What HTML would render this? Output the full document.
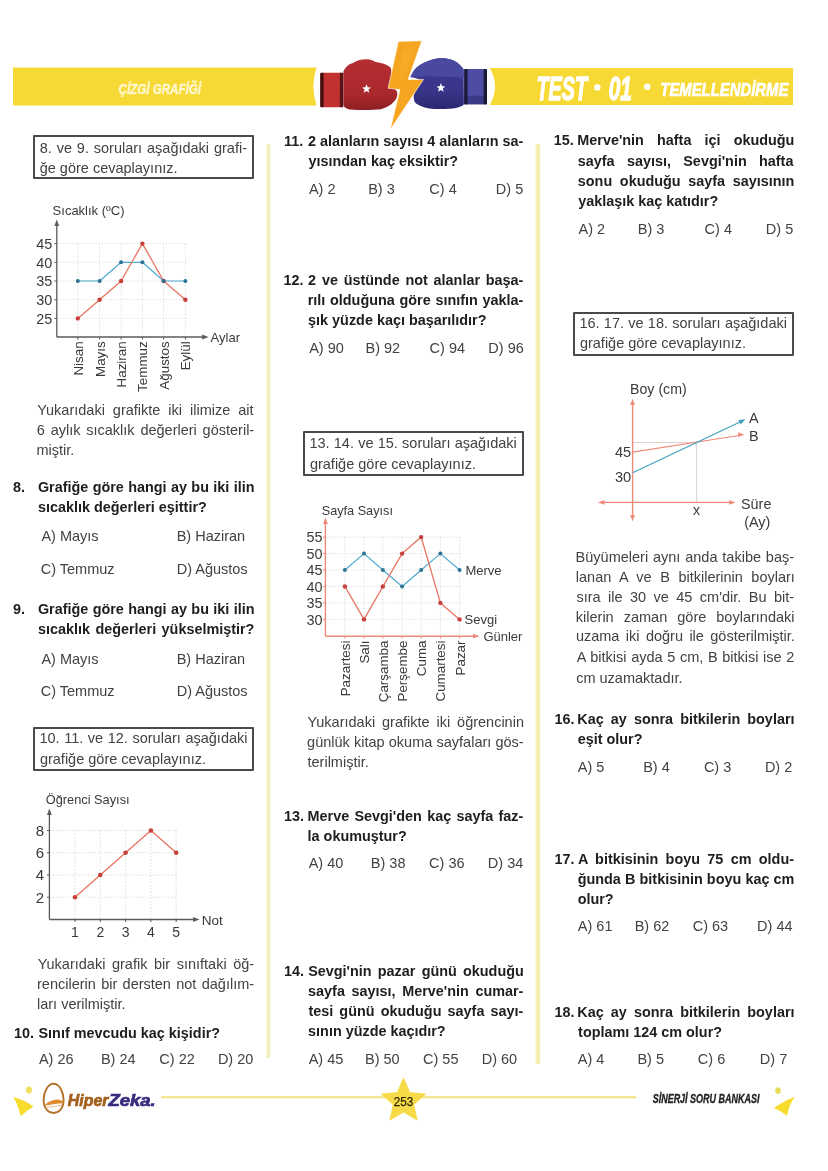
<!DOCTYPE html>
<html><head><meta charset="utf-8"><title>Çizgi Grafiği - Test 01</title>
<style>
html,body{margin:0;padding:0;background:#fff;}
body{width:828px;height:1171px;position:relative;overflow:hidden;font-family:"Liberation Sans",sans-serif;}
.t{position:absolute;line-height:1;white-space:pre;transform-origin:0 0;}
.box{position:absolute;box-sizing:border-box;border:2px solid #4a4a4a;border-radius:1px;}
svg.g{position:absolute;left:0;top:0;}
#pg{position:absolute;left:0;top:0;width:828px;height:1171px;filter:blur(0.3px);}
svg text{font-family:"Liberation Sans",sans-serif;}
</style></head>
<body>
<div id="pg">
<svg class="g" width="828" height="1171" viewBox="0 0 828 1171">
<rect x="265.8" y="144" width="5.2" height="914" fill="#FBFAE6"/>
<rect x="267" y="144" width="2.8" height="914" fill="#F1EEBC"/>
<rect x="535.3" y="144" width="5.4" height="920" fill="#FBF7DA"/>
<rect x="536.4" y="144" width="3.1" height="920" fill="#F3ECA6"/>
<path d="M13 67.5 L316.5 67.5 A61.7 61.7 0 0 0 316.5 105.5 L13 105.5Z" fill="#F7D935"/>
<path d="M489.8 68 L793 68 L793 105 L489.8 105 A35.5 35.5 0 0 0 489.8 68Z" fill="#F7D935"/>
<text x="118.5" y="94.2" font-size="15.5" font-weight="bold" font-style="italic" fill="#FFF6CC" stroke="#FFF6CC" stroke-width="0.5" textLength="82.5" lengthAdjust="spacingAndGlyphs">ÇİZGİ GRAFİĞİ</text>
<text x="536.5" y="99.6" font-size="33.5" font-weight="bold" font-style="italic" fill="#fff" stroke="#fff" stroke-width="1.3" textLength="50.6" lengthAdjust="spacingAndGlyphs">TEST</text>
<circle cx="597.4" cy="87.5" r="3.2" fill="#fff"/>
<text x="608.8" y="99.6" font-size="33.5" font-weight="bold" font-style="italic" fill="#fff" stroke="#fff" stroke-width="1.3" textLength="23" lengthAdjust="spacingAndGlyphs">01</text>
<circle cx="647.3" cy="86.8" r="3.2" fill="#fff"/>
<text x="660.3" y="96.3" font-size="19" font-weight="bold" font-style="italic" fill="#fff" stroke="#fff" stroke-width="0.7" textLength="128" lengthAdjust="spacingAndGlyphs">TEMELLENDİRME</text>
<defs><linearGradient id="rg" x1="0" y1="0" x2="0" y2="1"><stop offset="0" stop-color="#B52E32"/><stop offset="0.7" stop-color="#A8282C"/><stop offset="1" stop-color="#8E2022"/></linearGradient><linearGradient id="bg" x1="0" y1="0" x2="0" y2="1"><stop offset="0" stop-color="#3E3B8E"/><stop offset="0.65" stop-color="#38358A"/><stop offset="1" stop-color="#2B2870"/></linearGradient></defs>
<path d="M343.4 71.5 C346 66 350 63.5 352 63.5 C356 60.5 362 59 367 59.2 C371 59.5 373.5 60.5 375.5 62 C381 62.5 387 64.5 390.5 67.5 C392 70 392 80 391 87 C394 88 397 90 397.3 93 C397.5 97 396 100 393.5 102 C391 105 387 107.5 381 109.2 C372 110.2 360 110.2 350 109.4 C346 108.8 343.6 107.5 343.4 104 Z" fill="url(#rg)"/>
<rect x="320.3" y="72.8" width="22.9" height="34.4" rx="1.5" fill="#C2302F"/>
<rect x="320.3" y="72.8" width="3.3" height="34.4" rx="1" fill="#3e1010"/>
<rect x="339.9" y="72.8" width="3.3" height="34.4" fill="#551516"/>
<path d="M366.5 84.2 L367.7 87.3 L371 87.5 L368.4 89.6 L369.3 92.8 L366.5 91 L363.7 92.8 L364.6 89.6 L362 87.5 L365.3 87.3Z" fill="#fff"/>
<path d="M463.7 69.6 C460 64 455 60.5 450.7 59.5 C446 58 441 57.8 437 58.6 C431 59.8 425 62 420 65 C416 67 413 71 410.4 77.2 C414 77.5 418 78.5 421.3 80.4 C418 85 415 90 413.7 95.7 C413.5 99.5 414.5 102 416 103.5 C421 107 428 108.7 434 108.9 C442 109.3 450 109 456 108 C460 107 463 106 463.9 104.3 Z" fill="url(#bg)"/>
<path d="M463.7 69.6 C460 64 455 60.5 450.7 59.5 C446 58 441 57.8 437 58.6 C431 59.8 425 62 420 65 C416 67 413 71 410.4 77.2 C416 76.5 422 76 428 76.2 C440 76.5 452 76.8 463.9 77.5 Z" fill="#4A49A0"/>
<rect x="464.2" y="69" width="22.8" height="35.3" rx="1.5" fill="#4C4DA3"/>
<rect x="464.2" y="95.7" width="22.8" height="8.6" fill="#3B3A88"/>
<rect x="464.2" y="69" width="3.3" height="35.3" fill="#1b1938"/>
<rect x="483.7" y="69" width="3.3" height="35.3" rx="1" fill="#1b1938"/>
<path d="M440.9 83.1 L442.1 86.2 L445.4 86.4 L442.8 88.5 L443.7 91.7 L440.9 89.9 L438.1 91.7 L439 88.5 L436.4 86.4 L439.7 86.2Z" fill="#fff"/>
<path d="M398.3 41.4 L421.8 40.8 L408.2 79.4 L423.5 79.4 L390.2 129.7 L400 89.6 L388.1 88.3Z" fill="#F5A51F" stroke="#fff" stroke-width="0.6" stroke-linejoin="round"/>
<path d="M402 50 L414 47 L404 82 L398 84Z" fill="#F7AE2A" opacity="0.6"/>
<line x1="56.8" y1="243.6" x2="186.5" y2="243.6" stroke="#dcdcdc" stroke-width="0.9" stroke-dasharray="1.6 1.6"/>
<line x1="54.3" y1="243.6" x2="56.8" y2="243.6" stroke="#5a5a5a" stroke-width="1"/>
<line x1="56.8" y1="262.3" x2="186.5" y2="262.3" stroke="#dcdcdc" stroke-width="0.9" stroke-dasharray="1.6 1.6"/>
<line x1="54.3" y1="262.3" x2="56.8" y2="262.3" stroke="#5a5a5a" stroke-width="1"/>
<line x1="56.8" y1="281.0" x2="186.5" y2="281.0" stroke="#dcdcdc" stroke-width="0.9" stroke-dasharray="1.6 1.6"/>
<line x1="54.3" y1="281.0" x2="56.8" y2="281.0" stroke="#5a5a5a" stroke-width="1"/>
<line x1="56.8" y1="299.7" x2="186.5" y2="299.7" stroke="#dcdcdc" stroke-width="0.9" stroke-dasharray="1.6 1.6"/>
<line x1="54.3" y1="299.7" x2="56.8" y2="299.7" stroke="#5a5a5a" stroke-width="1"/>
<line x1="56.8" y1="318.4" x2="186.5" y2="318.4" stroke="#dcdcdc" stroke-width="0.9" stroke-dasharray="1.6 1.6"/>
<line x1="54.3" y1="318.4" x2="56.8" y2="318.4" stroke="#5a5a5a" stroke-width="1"/>
<line x1="77.8" y1="243.6" x2="77.8" y2="337.0" stroke="#dcdcdc" stroke-width="0.9" stroke-dasharray="1.6 1.6"/>
<line x1="77.8" y1="337.0" x2="77.8" y2="339.5" stroke="#5a5a5a" stroke-width="1"/>
<line x1="99.6" y1="243.6" x2="99.6" y2="337.0" stroke="#dcdcdc" stroke-width="0.9" stroke-dasharray="1.6 1.6"/>
<line x1="99.6" y1="337.0" x2="99.6" y2="339.5" stroke="#5a5a5a" stroke-width="1"/>
<line x1="121.1" y1="243.6" x2="121.1" y2="337.0" stroke="#dcdcdc" stroke-width="0.9" stroke-dasharray="1.6 1.6"/>
<line x1="121.1" y1="337.0" x2="121.1" y2="339.5" stroke="#5a5a5a" stroke-width="1"/>
<line x1="142.4" y1="243.6" x2="142.4" y2="337.0" stroke="#dcdcdc" stroke-width="0.9" stroke-dasharray="1.6 1.6"/>
<line x1="142.4" y1="337.0" x2="142.4" y2="339.5" stroke="#5a5a5a" stroke-width="1"/>
<line x1="163.6" y1="243.6" x2="163.6" y2="337.0" stroke="#dcdcdc" stroke-width="0.9" stroke-dasharray="1.6 1.6"/>
<line x1="163.6" y1="337.0" x2="163.6" y2="339.5" stroke="#5a5a5a" stroke-width="1"/>
<line x1="185.4" y1="243.6" x2="185.4" y2="337.0" stroke="#dcdcdc" stroke-width="0.9" stroke-dasharray="1.6 1.6"/>
<line x1="185.4" y1="337.0" x2="185.4" y2="339.5" stroke="#5a5a5a" stroke-width="1"/>
<line x1="56.8" y1="225.0" x2="56.8" y2="337.0" stroke="#5a5a5a" stroke-width="1.3"/>
<line x1="56.8" y1="337.0" x2="203.0" y2="337.0" stroke="#5a5a5a" stroke-width="1.3"/>
<path d="M56.8 219.5 L54.4 225.9 L59.2 225.9Z" fill="#5a5a5a"/>
<path d="M208.5 337.0 L202.1 334.6 L202.1 339.4Z" fill="#5a5a5a"/>
<polyline points="77.8,281.0 99.6,281.0 121.1,262.3 142.4,262.3 163.6,281.0 185.4,281.0" fill="none" stroke="#4FA9CF" stroke-width="1.2" stroke-linejoin="round"/>
<polyline points="77.8,318.4 99.6,299.7 121.1,281.0 142.4,243.6 163.6,281.0 185.4,299.7" fill="none" stroke="#E8735E" stroke-width="1.3" stroke-linejoin="round"/>
<circle cx="77.8" cy="318.4" r="2.2" fill="#C8403C"/>
<circle cx="99.6" cy="299.7" r="2.2" fill="#C8403C"/>
<circle cx="121.1" cy="281.0" r="2.2" fill="#C8403C"/>
<circle cx="142.4" cy="243.6" r="2.2" fill="#C8403C"/>
<circle cx="163.6" cy="281.0" r="2.2" fill="#C8403C"/>
<circle cx="185.4" cy="299.7" r="2.2" fill="#C8403C"/>
<circle cx="77.8" cy="281.0" r="2.0" fill="#2A7393"/>
<circle cx="99.6" cy="281.0" r="2.0" fill="#2A7393"/>
<circle cx="121.1" cy="262.3" r="2.0" fill="#2A7393"/>
<circle cx="142.4" cy="262.3" r="2.0" fill="#2A7393"/>
<circle cx="163.6" cy="281.0" r="2.0" fill="#2A7393"/>
<circle cx="185.4" cy="281.0" r="2.0" fill="#2A7393"/>
<text x="52.3" y="248.8" font-size="14.4" fill="#3a3a3a" text-anchor="end" >45</text>
<text x="52.3" y="267.5" font-size="14.4" fill="#3a3a3a" text-anchor="end" >40</text>
<text x="52.3" y="286.2" font-size="14.4" fill="#3a3a3a" text-anchor="end" >35</text>
<text x="52.3" y="304.9" font-size="14.4" fill="#3a3a3a" text-anchor="end" >30</text>
<text x="52.3" y="323.6" font-size="14.4" fill="#3a3a3a" text-anchor="end" >25</text>
<text x="52.6" y="215.0" font-size="13" fill="#3a3a3a" text-anchor="start" >Sıcaklık (ºC)</text>
<text x="210.6" y="341.5" font-size="13" fill="#3a3a3a" text-anchor="start" >Aylar</text>
<text transform="translate(82.7,341.3) rotate(-90)" font-size="13.4" fill="#3a3a3a" text-anchor="end">Nisan</text>
<text transform="translate(104.5,341.3) rotate(-90)" font-size="13.4" fill="#3a3a3a" text-anchor="end">Mayıs</text>
<text transform="translate(126.0,341.3) rotate(-90)" font-size="13.4" fill="#3a3a3a" text-anchor="end">Haziran</text>
<text transform="translate(147.3,341.3) rotate(-90)" font-size="13.4" fill="#3a3a3a" text-anchor="end">Temmuz</text>
<text transform="translate(168.5,341.3) rotate(-90)" font-size="13.4" fill="#3a3a3a" text-anchor="end">Ağustos</text>
<text transform="translate(190.3,341.3) rotate(-90)" font-size="13.4" fill="#3a3a3a" text-anchor="end">Eylül</text>
<line x1="325.4" y1="537.1" x2="461.0" y2="537.1" stroke="#dcdcdc" stroke-width="0.9" stroke-dasharray="1.6 1.6"/>
<line x1="322.9" y1="537.1" x2="325.4" y2="537.1" stroke="#F08A78" stroke-width="1"/>
<line x1="325.4" y1="553.6" x2="461.0" y2="553.6" stroke="#dcdcdc" stroke-width="0.9" stroke-dasharray="1.6 1.6"/>
<line x1="322.9" y1="553.6" x2="325.4" y2="553.6" stroke="#F08A78" stroke-width="1"/>
<line x1="325.4" y1="570.0" x2="461.0" y2="570.0" stroke="#dcdcdc" stroke-width="0.9" stroke-dasharray="1.6 1.6"/>
<line x1="322.9" y1="570.0" x2="325.4" y2="570.0" stroke="#F08A78" stroke-width="1"/>
<line x1="325.4" y1="586.5" x2="461.0" y2="586.5" stroke="#dcdcdc" stroke-width="0.9" stroke-dasharray="1.6 1.6"/>
<line x1="322.9" y1="586.5" x2="325.4" y2="586.5" stroke="#F08A78" stroke-width="1"/>
<line x1="325.4" y1="602.9" x2="461.0" y2="602.9" stroke="#dcdcdc" stroke-width="0.9" stroke-dasharray="1.6 1.6"/>
<line x1="322.9" y1="602.9" x2="325.4" y2="602.9" stroke="#F08A78" stroke-width="1"/>
<line x1="325.4" y1="619.4" x2="461.0" y2="619.4" stroke="#dcdcdc" stroke-width="0.9" stroke-dasharray="1.6 1.6"/>
<line x1="322.9" y1="619.4" x2="325.4" y2="619.4" stroke="#F08A78" stroke-width="1"/>
<line x1="344.9" y1="537.1" x2="344.9" y2="636.2" stroke="#dcdcdc" stroke-width="0.9" stroke-dasharray="1.6 1.6"/>
<line x1="344.9" y1="636.2" x2="344.9" y2="638.7" stroke="#F08A78" stroke-width="1"/>
<line x1="364.0" y1="537.1" x2="364.0" y2="636.2" stroke="#dcdcdc" stroke-width="0.9" stroke-dasharray="1.6 1.6"/>
<line x1="364.0" y1="636.2" x2="364.0" y2="638.7" stroke="#F08A78" stroke-width="1"/>
<line x1="382.9" y1="537.1" x2="382.9" y2="636.2" stroke="#dcdcdc" stroke-width="0.9" stroke-dasharray="1.6 1.6"/>
<line x1="382.9" y1="636.2" x2="382.9" y2="638.7" stroke="#F08A78" stroke-width="1"/>
<line x1="402.1" y1="537.1" x2="402.1" y2="636.2" stroke="#dcdcdc" stroke-width="0.9" stroke-dasharray="1.6 1.6"/>
<line x1="402.1" y1="636.2" x2="402.1" y2="638.7" stroke="#F08A78" stroke-width="1"/>
<line x1="421.2" y1="537.1" x2="421.2" y2="636.2" stroke="#dcdcdc" stroke-width="0.9" stroke-dasharray="1.6 1.6"/>
<line x1="421.2" y1="636.2" x2="421.2" y2="638.7" stroke="#F08A78" stroke-width="1"/>
<line x1="440.4" y1="537.1" x2="440.4" y2="636.2" stroke="#dcdcdc" stroke-width="0.9" stroke-dasharray="1.6 1.6"/>
<line x1="440.4" y1="636.2" x2="440.4" y2="638.7" stroke="#F08A78" stroke-width="1"/>
<line x1="459.6" y1="537.1" x2="459.6" y2="636.2" stroke="#dcdcdc" stroke-width="0.9" stroke-dasharray="1.6 1.6"/>
<line x1="459.6" y1="636.2" x2="459.6" y2="638.7" stroke="#F08A78" stroke-width="1"/>
<line x1="325.4" y1="523.0" x2="325.4" y2="636.2" stroke="#F08A78" stroke-width="1.4"/>
<line x1="325.4" y1="636.2" x2="474.0" y2="636.2" stroke="#F08A78" stroke-width="1.4"/>
<path d="M325.4 517.5 L323.0 523.9 L327.8 523.9Z" fill="#F08A78"/>
<path d="M479.5 636.2 L473.1 633.8 L473.1 638.6Z" fill="#F08A78"/>
<polyline points="344.9,570.0 364.0,553.6 382.9,570.0 402.1,586.5 421.2,570.0 440.4,553.6 459.6,570.0" fill="none" stroke="#4FA9CF" stroke-width="1.2" stroke-linejoin="round"/>
<polyline points="344.9,586.5 364.0,619.4 382.9,586.5 402.1,553.6 421.2,537.1 440.4,602.9 459.6,619.4" fill="none" stroke="#E8735E" stroke-width="1.3" stroke-linejoin="round"/>
<circle cx="344.9" cy="586.5" r="2.2" fill="#C8403C"/>
<circle cx="364.0" cy="619.4" r="2.2" fill="#C8403C"/>
<circle cx="382.9" cy="586.5" r="2.2" fill="#C8403C"/>
<circle cx="402.1" cy="553.6" r="2.2" fill="#C8403C"/>
<circle cx="421.2" cy="537.1" r="2.2" fill="#C8403C"/>
<circle cx="440.4" cy="602.9" r="2.2" fill="#C8403C"/>
<circle cx="459.6" cy="619.4" r="2.2" fill="#C8403C"/>
<circle cx="344.9" cy="570.0" r="2.0" fill="#2A7393"/>
<circle cx="364.0" cy="553.6" r="2.0" fill="#2A7393"/>
<circle cx="382.9" cy="570.0" r="2.0" fill="#2A7393"/>
<circle cx="402.1" cy="586.5" r="2.0" fill="#2A7393"/>
<circle cx="421.2" cy="570.0" r="2.0" fill="#2A7393"/>
<circle cx="440.4" cy="553.6" r="2.0" fill="#2A7393"/>
<circle cx="459.6" cy="570.0" r="2.0" fill="#2A7393"/>
<text x="322.5" y="542.3" font-size="14.4" fill="#3a3a3a" text-anchor="end" >55</text>
<text x="322.5" y="558.8" font-size="14.4" fill="#3a3a3a" text-anchor="end" >50</text>
<text x="322.5" y="575.2" font-size="14.4" fill="#3a3a3a" text-anchor="end" >45</text>
<text x="322.5" y="591.7" font-size="14.4" fill="#3a3a3a" text-anchor="end" >40</text>
<text x="322.5" y="608.1" font-size="14.4" fill="#3a3a3a" text-anchor="end" >35</text>
<text x="322.5" y="624.6" font-size="14.4" fill="#3a3a3a" text-anchor="end" >30</text>
<text x="321.7" y="514.5" font-size="12.7" fill="#3a3a3a" text-anchor="start" >Sayfa Sayısı</text>
<text x="483.4" y="641.0" font-size="13" fill="#3a3a3a" text-anchor="start" >Günler</text>
<text x="465.4" y="574.5" font-size="13" fill="#3a3a3a" text-anchor="start" >Merve</text>
<text x="464.6" y="623.6" font-size="13" fill="#3a3a3a" text-anchor="start" >Sevgi</text>
<text transform="translate(349.8,640.5) rotate(-90)" font-size="13.4" fill="#3a3a3a" text-anchor="end">Pazartesi</text>
<text transform="translate(368.9,640.5) rotate(-90)" font-size="13.4" fill="#3a3a3a" text-anchor="end">Salı</text>
<text transform="translate(387.8,640.5) rotate(-90)" font-size="13.4" fill="#3a3a3a" text-anchor="end">Çarşamba</text>
<text transform="translate(407.0,640.5) rotate(-90)" font-size="13.4" fill="#3a3a3a" text-anchor="end">Perşembe</text>
<text transform="translate(426.1,640.5) rotate(-90)" font-size="13.4" fill="#3a3a3a" text-anchor="end">Cuma</text>
<text transform="translate(445.3,640.5) rotate(-90)" font-size="13.4" fill="#3a3a3a" text-anchor="end">Cumartesi</text>
<text transform="translate(464.5,640.5) rotate(-90)" font-size="13.4" fill="#3a3a3a" text-anchor="end">Pazar</text>
<line x1="49.4" y1="830.5" x2="177.0" y2="830.5" stroke="#dcdcdc" stroke-width="0.9" stroke-dasharray="1.6 1.6"/>
<line x1="46.9" y1="830.5" x2="49.4" y2="830.5" stroke="#5a5a5a" stroke-width="1"/>
<line x1="49.4" y1="852.7" x2="177.0" y2="852.7" stroke="#dcdcdc" stroke-width="0.9" stroke-dasharray="1.6 1.6"/>
<line x1="46.9" y1="852.7" x2="49.4" y2="852.7" stroke="#5a5a5a" stroke-width="1"/>
<line x1="49.4" y1="875.0" x2="177.0" y2="875.0" stroke="#dcdcdc" stroke-width="0.9" stroke-dasharray="1.6 1.6"/>
<line x1="46.9" y1="875.0" x2="49.4" y2="875.0" stroke="#5a5a5a" stroke-width="1"/>
<line x1="49.4" y1="897.2" x2="177.0" y2="897.2" stroke="#dcdcdc" stroke-width="0.9" stroke-dasharray="1.6 1.6"/>
<line x1="46.9" y1="897.2" x2="49.4" y2="897.2" stroke="#5a5a5a" stroke-width="1"/>
<line x1="75.0" y1="830.5" x2="75.0" y2="919.5" stroke="#dcdcdc" stroke-width="0.9" stroke-dasharray="1.6 1.6"/>
<line x1="75.0" y1="919.5" x2="75.0" y2="922.0" stroke="#5a5a5a" stroke-width="1"/>
<line x1="100.3" y1="830.5" x2="100.3" y2="919.5" stroke="#dcdcdc" stroke-width="0.9" stroke-dasharray="1.6 1.6"/>
<line x1="100.3" y1="919.5" x2="100.3" y2="922.0" stroke="#5a5a5a" stroke-width="1"/>
<line x1="125.6" y1="830.5" x2="125.6" y2="919.5" stroke="#dcdcdc" stroke-width="0.9" stroke-dasharray="1.6 1.6"/>
<line x1="125.6" y1="919.5" x2="125.6" y2="922.0" stroke="#5a5a5a" stroke-width="1"/>
<line x1="150.9" y1="830.5" x2="150.9" y2="919.5" stroke="#dcdcdc" stroke-width="0.9" stroke-dasharray="1.6 1.6"/>
<line x1="150.9" y1="919.5" x2="150.9" y2="922.0" stroke="#5a5a5a" stroke-width="1"/>
<line x1="176.2" y1="830.5" x2="176.2" y2="919.5" stroke="#dcdcdc" stroke-width="0.9" stroke-dasharray="1.6 1.6"/>
<line x1="176.2" y1="919.5" x2="176.2" y2="922.0" stroke="#5a5a5a" stroke-width="1"/>
<line x1="49.4" y1="814.0" x2="49.4" y2="919.5" stroke="#5a5a5a" stroke-width="1.3"/>
<line x1="49.4" y1="919.5" x2="194.0" y2="919.5" stroke="#5a5a5a" stroke-width="1.3"/>
<path d="M49.4 808.5 L47.0 814.9 L51.8 814.9Z" fill="#5a5a5a"/>
<path d="M199.5 919.5 L193.1 917.1 L193.1 921.9Z" fill="#5a5a5a"/>
<polyline points="75.0,897.2 100.3,875.0 125.6,852.7 150.9,830.5 176.2,852.7" fill="none" stroke="#E8735E" stroke-width="1.3" stroke-linejoin="round"/>
<circle cx="75.0" cy="897.2" r="2.3" fill="#C8403C"/>
<circle cx="100.3" cy="875.0" r="2.3" fill="#C8403C"/>
<circle cx="125.6" cy="852.7" r="2.3" fill="#C8403C"/>
<circle cx="150.9" cy="830.5" r="2.3" fill="#C8403C"/>
<circle cx="176.2" cy="852.7" r="2.3" fill="#C8403C"/>
<text x="44.2" y="835.9" font-size="15" fill="#3a3a3a" text-anchor="end" >8</text>
<text x="44.2" y="858.1" font-size="15" fill="#3a3a3a" text-anchor="end" >6</text>
<text x="44.2" y="880.4" font-size="15" fill="#3a3a3a" text-anchor="end" >4</text>
<text x="44.2" y="902.6" font-size="15" fill="#3a3a3a" text-anchor="end" >2</text>
<text x="75.0" y="936.8" font-size="14" fill="#3a3a3a" text-anchor="middle" >1</text>
<text x="100.3" y="936.8" font-size="14" fill="#3a3a3a" text-anchor="middle" >2</text>
<text x="125.6" y="936.8" font-size="14" fill="#3a3a3a" text-anchor="middle" >3</text>
<text x="150.9" y="936.8" font-size="14" fill="#3a3a3a" text-anchor="middle" >4</text>
<text x="176.2" y="936.8" font-size="14" fill="#3a3a3a" text-anchor="middle" >5</text>
<text x="45.7" y="804.4" font-size="12.8" fill="#3a3a3a" text-anchor="start" >Öğrenci Sayısı</text>
<text x="201.7" y="924.5" font-size="13.5" fill="#3a3a3a" text-anchor="start" >Not</text>
<line x1="632.6" y1="442.5" x2="696.6" y2="442.5" stroke="#e0c8c4" stroke-width="0.9"/>
<line x1="696.6" y1="442.5" x2="696.6" y2="502.4" stroke="#cfcfcf" stroke-width="0.9"/>
<line x1="632.6" y1="404.0" x2="632.6" y2="516.0" stroke="#F08A78" stroke-width="1.4"/>
<line x1="604.0" y1="502.4" x2="730.0" y2="502.4" stroke="#F08A78" stroke-width="1.4"/>
<path d="M632.6 398.5 L630.2 404.9 L635.0 404.9Z" fill="#F08A78"/>
<path d="M632.6 521.5 L630.2 515.1 L635.0 515.1Z" fill="#F08A78"/>
<path d="M598.0 502.4 L604.4 500.0 L604.4 504.8Z" fill="#F08A78"/>
<path d="M735.5 502.4 L729.1 500.0 L729.1 504.8Z" fill="#F08A78"/>
<line x1="632.6" y1="452.1" x2="739" y2="435.5" stroke="#F08A78" stroke-width="1.15"/>
<path d="M744.5 434.7 L738.1 432.3 L738.1 437.1Z" fill="#F08A78"/>
<line x1="632.6" y1="472.7" x2="740" y2="422" stroke="#3FA2BF" stroke-width="1.15"/>
<path d="M745.5 419.3 L738.4 420.1 L740.6 424.6Z" fill="#3FA2BF"/>
<text x="630.0" y="394.2" font-size="14.2" fill="#3a3a3a" text-anchor="start" >Boy (cm)</text>
<text x="749.0" y="423.1" font-size="14.4" fill="#3a3a3a" text-anchor="start" >A</text>
<text x="749.0" y="440.5" font-size="14.4" fill="#3a3a3a" text-anchor="start" >B</text>
<text x="631.2" y="457.0" font-size="14.6" fill="#3a3a3a" text-anchor="end" >45</text>
<text x="631.2" y="481.8" font-size="14.6" fill="#3a3a3a" text-anchor="end" >30</text>
<text x="696.6" y="515.0" font-size="14" fill="#3a3a3a" text-anchor="middle" >x</text>
<text x="741.0" y="509.0" font-size="14.4" fill="#3a3a3a" text-anchor="start" >Süre</text>
<text x="744.2" y="527.0" font-size="14.4" fill="#3a3a3a" text-anchor="start" >(Ay)</text>
<line x1="161" y1="1097.2" x2="636.3" y2="1097.2" stroke="#F3E07E" stroke-width="2"/>
<path d="M403.50,1078.00 L409.85,1092.56 L425.66,1094.10 L413.77,1104.64 L417.20,1120.15 L403.50,1112.10 L389.80,1120.15 L393.23,1104.64 L381.34,1094.10 L397.15,1092.56Z" fill="#F6DA48" stroke="#F6DA48" stroke-width="0.8" stroke-linejoin="round"/>
<text x="403.5" y="1106.2" font-size="12.5" fill="#2e2806" stroke="#2e2806" stroke-width="0.25" text-anchor="middle" textLength="19.5" lengthAdjust="spacingAndGlyphs">253</text>
<ellipse cx="29" cy="1090" rx="3" ry="3.4" fill="#F0E060"/>
<path d="M13.5 1097 Q24 1099.8 33.5 1106.4 Q26.5 1110.5 20.8 1116.2 Q18.5 1106 13.5 1097Z" fill="#F7DC2E"/>
<ellipse cx="778" cy="1090.6" rx="2.8" ry="3.4" fill="#E8DC5A"/>
<path d="M795 1096.8 Q784.5 1100.5 773.8 1108 Q781 1110.8 787 1115.8 Q789 1104.5 795 1096.8Z" fill="#F7DC2E"/>
<path d="M53.6 1083.8 C59.5 1083.8 63.6 1092 63.6 1100 C63.6 1108 59 1113 53.6 1113 C48.2 1113 43.6 1108 43.6 1100 C43.6 1092 47.7 1083.8 53.6 1083.8Z" fill="#fff" stroke="#B4732C" stroke-width="1.9"/>
<path d="M45.2 1104.6 C48.5 1101.5 53 1099.3 57.5 1099.4 C60 1099.5 62 1100.3 63.2 1101.6 L63 1103.2 C58 1103.6 52 1104.4 45.2 1105.4Z" fill="#E08A30"/>
<path d="M46 1107.5 C51 1106.6 57 1106.2 62 1105.4" fill="none" stroke="#E6B070" stroke-width="0.8"/>
<text x="67.8" y="1106" font-size="16.5" font-weight="bold" font-style="italic" fill="#A3601C" stroke="#A3601C" stroke-width="0.7" textLength="40.6" lengthAdjust="spacingAndGlyphs">Hiper</text>
<text x="108.4" y="1106" font-size="16.5" font-weight="bold" font-style="italic" fill="#3A2C80" stroke="#3A2C80" stroke-width="0.7" textLength="47.3" lengthAdjust="spacingAndGlyphs">Zeka.</text>
<text x="652.7" y="1103.2" font-size="13" font-weight="bold" font-style="italic" fill="#222" stroke="#222" stroke-width="0.35" textLength="106.7" lengthAdjust="spacingAndGlyphs">SİNERJİ SORU BANKASI</text>
</svg>
<div class="box" style="left:33.1px;top:135.1px;width:220.8px;height:43.8px"></div>
<div class="box" style="left:32.9px;top:726.9px;width:221.0px;height:43.8px"></div>
<div class="box" style="left:303.1px;top:431.3px;width:220.7px;height:44.5px"></div>
<div class="box" style="left:572.9px;top:311.7px;width:221.0px;height:44.0px"></div>
<div class="t" style="left:39.7px;top:140.50px;font-size:14.5px;color:#424242;width:207.3px;text-align:justify;text-align-last:justify;white-space:normal;">8. ve 9. soruları aşağıdaki grafi-</div>
<div class="t" style="left:39.7px;top:160.80px;font-size:14.5px;color:#424242;">ğe göre cevaplayınız.</div>
<div class="t" style="left:37.2px;top:403.00px;font-size:14.5px;color:#424242;width:216.4px;text-align:justify;text-align-last:justify;white-space:normal;">Yukarıdaki grafikte iki ilimize ait</div>
<div class="t" style="left:36.8px;top:423.30px;font-size:14.5px;color:#424242;width:217.4px;text-align:justify;text-align-last:justify;white-space:normal;">6 aylık sıcaklık değerleri gösteril-</div>
<div class="t" style="left:36.5px;top:443.30px;font-size:14.5px;color:#424242;">miştir.</div>
<div class="t" style="left:13.0px;top:480.00px;font-size:14.4px;font-weight:bold;color:#1e1e1e;">8.</div>
<div class="t" style="left:37.9px;top:480.00px;font-size:14.4px;font-weight:bold;color:#1e1e1e;width:216.6px;text-align:justify;text-align-last:justify;white-space:normal;">Grafiğe göre hangi ay bu iki ilin</div>
<div class="t" style="left:38.0px;top:500.00px;font-size:14.4px;font-weight:bold;color:#1e1e1e;">sıcaklık değerleri eşittir?</div>
<div class="t" style="left:41.4px;top:529.00px;font-size:14.5px;color:#424242;">A) Mayıs</div>
<div class="t" style="left:176.7px;top:529.00px;font-size:14.5px;color:#424242;">B) Haziran</div>
<div class="t" style="left:40.7px;top:561.80px;font-size:14.5px;color:#424242;">C) Temmuz</div>
<div class="t" style="left:176.7px;top:561.80px;font-size:14.5px;color:#424242;">D) Ağustos</div>
<div class="t" style="left:13.0px;top:602.40px;font-size:14.4px;font-weight:bold;color:#1e1e1e;">9.</div>
<div class="t" style="left:37.9px;top:602.40px;font-size:14.4px;font-weight:bold;color:#1e1e1e;width:216.6px;text-align:justify;text-align-last:justify;white-space:normal;">Grafiğe göre hangi ay bu iki ilin</div>
<div class="t" style="left:38.0px;top:622.40px;font-size:14.4px;font-weight:bold;color:#1e1e1e;width:216.4px;text-align:justify;text-align-last:justify;white-space:normal;">sıcaklık değerleri yükselmiştir?</div>
<div class="t" style="left:41.4px;top:651.50px;font-size:14.5px;color:#424242;">A) Mayıs</div>
<div class="t" style="left:176.7px;top:651.50px;font-size:14.5px;color:#424242;">B) Haziran</div>
<div class="t" style="left:40.7px;top:683.80px;font-size:14.5px;color:#424242;">C) Temmuz</div>
<div class="t" style="left:176.7px;top:683.80px;font-size:14.5px;color:#424242;">D) Ağustos</div>
<div class="t" style="left:39.4px;top:731.20px;font-size:14.5px;color:#424242;width:208.1px;text-align:justify;text-align-last:justify;white-space:normal;">10. 11. ve 12. soruları aşağıdaki</div>
<div class="t" style="left:39.9px;top:751.60px;font-size:14.5px;color:#424242;">grafiğe göre cevaplayınız.</div>
<div class="t" style="left:37.7px;top:956.80px;font-size:14.5px;color:#424242;width:216.5px;text-align:justify;text-align-last:justify;white-space:normal;">Yukarıdaki grafik bir sınıftaki öğ-</div>
<div class="t" style="left:37.0px;top:977.10px;font-size:14.5px;color:#424242;width:217.1px;text-align:justify;text-align-last:justify;white-space:normal;">rencilerin bir dersten not dağılım-</div>
<div class="t" style="left:37.0px;top:997.10px;font-size:14.5px;color:#424242;">ları verilmiştir.</div>
<div class="t" style="left:14.0px;top:1025.90px;font-size:14.4px;font-weight:bold;color:#1e1e1e;">10.</div>
<div class="t" style="left:38.5px;top:1025.90px;font-size:14.4px;font-weight:bold;color:#1e1e1e;">Sınıf mevcudu kaç kişidir?</div>
<div class="t" style="left:38.9px;top:1052.10px;font-size:14.5px;color:#424242;">A) 26</div>
<div class="t" style="left:100.9px;top:1052.10px;font-size:14.5px;color:#424242;">B) 24</div>
<div class="t" style="left:159.3px;top:1052.10px;font-size:14.5px;color:#424242;">C) 22</div>
<div class="t" style="left:217.9px;top:1052.10px;font-size:14.5px;color:#424242;">D) 20</div>
<div class="t" style="left:284.0px;top:134.00px;font-size:14.4px;font-weight:bold;color:#1e1e1e;">11.</div>
<div class="t" style="left:308.1px;top:134.00px;font-size:14.4px;font-weight:bold;color:#1e1e1e;transform:scaleX(1.0004102526866103);">2 alanların sayısı 4 alanların sa-</div>
<div class="t" style="left:308.5px;top:154.00px;font-size:14.4px;font-weight:bold;color:#1e1e1e;">yısından kaç eksiktir?</div>
<div class="t" style="left:308.9px;top:181.50px;font-size:14.5px;color:#424242;">A) 2</div>
<div class="t" style="left:368.2px;top:181.50px;font-size:14.5px;color:#424242;">B) 3</div>
<div class="t" style="left:429.3px;top:181.50px;font-size:14.5px;color:#424242;">C) 4</div>
<div class="t" style="left:495.8px;top:181.50px;font-size:14.5px;color:#424242;">D) 5</div>
<div class="t" style="left:283.5px;top:273.40px;font-size:14.4px;font-weight:bold;color:#1e1e1e;">12.</div>
<div class="t" style="left:308.1px;top:273.40px;font-size:14.4px;font-weight:bold;color:#1e1e1e;width:215.3px;text-align:justify;text-align-last:justify;white-space:normal;">2 ve üstünde not alanlar başa-</div>
<div class="t" style="left:307.7px;top:293.40px;font-size:14.4px;font-weight:bold;color:#1e1e1e;width:215.7px;text-align:justify;text-align-last:justify;white-space:normal;">rılı olduğuna göre sınıfın yakla-</div>
<div class="t" style="left:308.1px;top:313.40px;font-size:14.4px;font-weight:bold;color:#1e1e1e;">şık yüzde kaçı başarılıdır?</div>
<div class="t" style="left:309.2px;top:341.00px;font-size:14.5px;color:#424242;">A) 90</div>
<div class="t" style="left:365.5px;top:341.00px;font-size:14.5px;color:#424242;">B) 92</div>
<div class="t" style="left:429.6px;top:341.00px;font-size:14.5px;color:#424242;">C) 94</div>
<div class="t" style="left:488.3px;top:341.00px;font-size:14.5px;color:#424242;">D) 96</div>
<div class="t" style="left:309.4px;top:436.00px;font-size:14.5px;color:#424242;width:207.4px;text-align:justify;text-align-last:justify;white-space:normal;">13. 14. ve 15. soruları aşağıdaki</div>
<div class="t" style="left:309.9px;top:457.00px;font-size:14.5px;color:#424242;">grafiğe göre cevaplayınız.</div>
<div class="t" style="left:307.4px;top:714.80px;font-size:14.5px;color:#424242;width:216.6px;text-align:justify;text-align-last:justify;white-space:normal;">Yukarıdaki grafikte iki öğrencinin</div>
<div class="t" style="left:307.1px;top:735.00px;font-size:14.5px;color:#424242;width:216.6px;text-align:justify;text-align-last:justify;white-space:normal;">günlük kitap okuma sayfaları gös-</div>
<div class="t" style="left:307.5px;top:755.10px;font-size:14.5px;color:#424242;">terilmiştir.</div>
<div class="t" style="left:284.0px;top:809.30px;font-size:14.4px;font-weight:bold;color:#1e1e1e;">13.</div>
<div class="t" style="left:307.6px;top:809.30px;font-size:14.4px;font-weight:bold;color:#1e1e1e;width:215.7px;text-align:justify;text-align-last:justify;white-space:normal;">Merve Sevgi&#x27;den kaç sayfa faz-</div>
<div class="t" style="left:307.6px;top:829.30px;font-size:14.4px;font-weight:bold;color:#1e1e1e;">la okumuştur?</div>
<div class="t" style="left:308.7px;top:856.10px;font-size:14.5px;color:#424242;">A) 40</div>
<div class="t" style="left:370.8px;top:856.10px;font-size:14.5px;color:#424242;">B) 38</div>
<div class="t" style="left:429.1px;top:856.10px;font-size:14.5px;color:#424242;">C) 36</div>
<div class="t" style="left:487.8px;top:856.10px;font-size:14.5px;color:#424242;">D) 34</div>
<div class="t" style="left:284.0px;top:964.30px;font-size:14.4px;font-weight:bold;color:#1e1e1e;">14.</div>
<div class="t" style="left:308.2px;top:964.30px;font-size:14.4px;font-weight:bold;color:#1e1e1e;width:215.6px;text-align:justify;text-align-last:justify;white-space:normal;">Sevgi&#x27;nin pazar günü okuduğu</div>
<div class="t" style="left:308.1px;top:984.30px;font-size:14.4px;font-weight:bold;color:#1e1e1e;width:215.3px;text-align:justify;text-align-last:justify;white-space:normal;">sayfa sayısı, Merve&#x27;nin cumar-</div>
<div class="t" style="left:308.4px;top:1004.30px;font-size:14.4px;font-weight:bold;color:#1e1e1e;width:215.0px;text-align:justify;text-align-last:justify;white-space:normal;">tesi günü okuduğu sayfa sayı-</div>
<div class="t" style="left:308.1px;top:1024.30px;font-size:14.4px;font-weight:bold;color:#1e1e1e;">sının yüzde kaçıdır?</div>
<div class="t" style="left:308.7px;top:1051.50px;font-size:14.5px;color:#424242;">A) 45</div>
<div class="t" style="left:365.0px;top:1051.50px;font-size:14.5px;color:#424242;">B) 50</div>
<div class="t" style="left:423.0px;top:1051.50px;font-size:14.5px;color:#424242;">C) 55</div>
<div class="t" style="left:481.7px;top:1051.50px;font-size:14.5px;color:#424242;">D) 60</div>
<div class="t" style="left:553.7px;top:133.40px;font-size:14.4px;font-weight:bold;color:#1e1e1e;">15.</div>
<div class="t" style="left:577.3px;top:133.40px;font-size:14.4px;font-weight:bold;color:#1e1e1e;width:217.1px;text-align:justify;text-align-last:justify;white-space:normal;">Merve&#x27;nin hafta içi okuduğu</div>
<div class="t" style="left:577.8px;top:153.70px;font-size:14.4px;font-weight:bold;color:#1e1e1e;width:215.6px;text-align:justify;text-align-last:justify;white-space:normal;">sayfa sayısı, Sevgi&#x27;nin hafta</div>
<div class="t" style="left:577.8px;top:174.00px;font-size:14.4px;font-weight:bold;color:#1e1e1e;width:216.6px;text-align:justify;text-align-last:justify;white-space:normal;">sonu okuduğu sayfa sayısının</div>
<div class="t" style="left:578.2px;top:194.30px;font-size:14.4px;font-weight:bold;color:#1e1e1e;">yaklaşık kaç katıdır?</div>
<div class="t" style="left:578.6px;top:221.90px;font-size:14.5px;color:#424242;">A) 2</div>
<div class="t" style="left:637.8px;top:221.90px;font-size:14.5px;color:#424242;">B) 3</div>
<div class="t" style="left:704.6px;top:221.90px;font-size:14.5px;color:#424242;">C) 4</div>
<div class="t" style="left:765.8px;top:221.90px;font-size:14.5px;color:#424242;">D) 5</div>
<div class="t" style="left:579.4px;top:315.80px;font-size:14.5px;color:#424242;width:207.6px;text-align:justify;text-align-last:justify;white-space:normal;">16. 17. ve 18. soruları aşağıdaki</div>
<div class="t" style="left:579.9px;top:336.30px;font-size:14.5px;color:#424242;">grafiğe göre cevaplayınız.</div>
<div class="t" style="left:575.6px;top:549.50px;font-size:14.5px;color:#424242;width:218.5px;text-align:justify;text-align-last:justify;white-space:normal;">Büyümeleri aynı anda takibe baş-</div>
<div class="t" style="left:575.8px;top:569.50px;font-size:14.5px;color:#424242;width:219.1px;text-align:justify;text-align-last:justify;white-space:normal;">lanan A ve B bitkilerinin boyları</div>
<div class="t" style="left:576.4px;top:589.50px;font-size:14.5px;color:#424242;width:217.7px;text-align:justify;text-align-last:justify;white-space:normal;">sıra ile 30 ve 45 cm&#x27;dir. Bu bit-</div>
<div class="t" style="left:575.8px;top:609.50px;font-size:14.5px;color:#424242;width:218.7px;text-align:justify;text-align-last:justify;white-space:normal;">kilerin zaman göre boylarındaki</div>
<div class="t" style="left:575.9px;top:629.20px;font-size:14.5px;color:#424242;width:219.0px;text-align:justify;text-align-last:justify;white-space:normal;">uzama iki doğru ile gösterilmiştir.</div>
<div class="t" style="left:576.8px;top:650.00px;font-size:14.5px;color:#424242;width:217.5px;text-align:justify;text-align-last:justify;white-space:normal;">A bitkisi ayda 5 cm, B bitkisi ise 2</div>
<div class="t" style="left:576.2px;top:670.70px;font-size:14.5px;color:#424242;">cm uzamaktadır.</div>
<div class="t" style="left:554.4px;top:712.30px;font-size:14.4px;font-weight:bold;color:#1e1e1e;">16.</div>
<div class="t" style="left:577.3px;top:712.30px;font-size:14.4px;font-weight:bold;color:#1e1e1e;width:217.2px;text-align:justify;text-align-last:justify;white-space:normal;">Kaç ay sonra bitkilerin boyları</div>
<div class="t" style="left:577.7px;top:732.30px;font-size:14.4px;font-weight:bold;color:#1e1e1e;">eşit olur?</div>
<div class="t" style="left:577.8px;top:759.70px;font-size:14.5px;color:#424242;">A) 5</div>
<div class="t" style="left:643.2px;top:759.70px;font-size:14.5px;color:#424242;">B) 4</div>
<div class="t" style="left:703.9px;top:759.70px;font-size:14.5px;color:#424242;">C) 3</div>
<div class="t" style="left:764.9px;top:759.70px;font-size:14.5px;color:#424242;">D) 2</div>
<div class="t" style="left:554.4px;top:852.10px;font-size:14.4px;font-weight:bold;color:#1e1e1e;">17.</div>
<div class="t" style="left:577.9px;top:852.10px;font-size:14.4px;font-weight:bold;color:#1e1e1e;width:216.1px;text-align:justify;text-align-last:justify;white-space:normal;">A bitkisinin boyu 75 cm oldu-</div>
<div class="t" style="left:577.7px;top:872.10px;font-size:14.4px;font-weight:bold;color:#1e1e1e;width:216.7px;text-align:justify;text-align-last:justify;white-space:normal;">ğunda B bitkisinin boyu kaç cm</div>
<div class="t" style="left:577.7px;top:892.10px;font-size:14.4px;font-weight:bold;color:#1e1e1e;">olur?</div>
<div class="t" style="left:577.8px;top:919.10px;font-size:14.5px;color:#424242;">A) 61</div>
<div class="t" style="left:634.7px;top:919.10px;font-size:14.5px;color:#424242;">B) 62</div>
<div class="t" style="left:692.7px;top:919.10px;font-size:14.5px;color:#424242;">C) 63</div>
<div class="t" style="left:757.1px;top:919.10px;font-size:14.5px;color:#424242;">D) 44</div>
<div class="t" style="left:554.4px;top:1005.30px;font-size:14.4px;font-weight:bold;color:#1e1e1e;">18.</div>
<div class="t" style="left:577.3px;top:1005.30px;font-size:14.4px;font-weight:bold;color:#1e1e1e;width:217.2px;text-align:justify;text-align-last:justify;white-space:normal;">Kaç ay sonra bitkilerin boyları</div>
<div class="t" style="left:578.1px;top:1025.30px;font-size:14.4px;font-weight:bold;color:#1e1e1e;">toplamı 124 cm olur?</div>
<div class="t" style="left:577.8px;top:1051.70px;font-size:14.5px;color:#424242;">A) 4</div>
<div class="t" style="left:637.4px;top:1051.70px;font-size:14.5px;color:#424242;">B) 5</div>
<div class="t" style="left:697.8px;top:1051.70px;font-size:14.5px;color:#424242;">C) 6</div>
<div class="t" style="left:759.8px;top:1051.70px;font-size:14.5px;color:#424242;">D) 7</div>
</div>
</body></html>
